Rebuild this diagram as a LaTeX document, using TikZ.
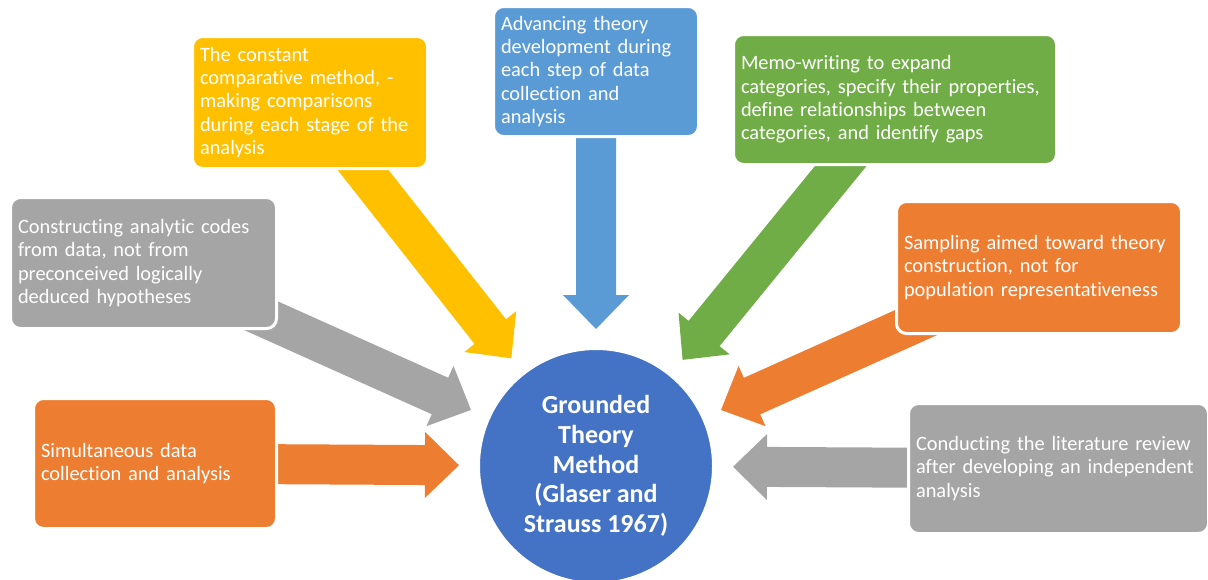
\documentclass[tikz,border=0pt]{standalone}
\usepackage{fontspec}
\setmainfont{Carlito}[Ligatures=NoCommon]
\usetikzlibrary{calc}
\pgfdeclarelayer{background}
\pgfsetlayers{background,main}
\hyphenpenalty=10000

\definecolor{corange}{HTML}{ED7D31}
\definecolor{cgray}{HTML}{A5A5A5}
\definecolor{cyellow}{HTML}{FFC000}
\definecolor{cblue}{HTML}{5B9BD5}
\definecolor{cgreen}{HTML}{70AD47}
\definecolor{cdblue}{HTML}{4472C4}

% Block arrow from #2 (tail) to #3 (tip): shaft 40pt wide, head 66pt wide, 34pt long
\newcommand\blockarrow[3]{%
  \fill[#1] ($(#2)!20pt!90:(#3)$)
    -- ($($(#3)!34pt!(#2)$)!20pt!90:(#3)$)
    -- ($($(#3)!34pt!(#2)$)!33pt!90:(#3)$)
    -- (#3)
    -- ($($(#3)!34pt!(#2)$)!33pt!-90:(#3)$)
    -- ($($(#3)!34pt!(#2)$)!20pt!-90:(#3)$)
    -- ($(#2)!20pt!-90:(#3)$) -- cycle;}

\begin{document}
\begin{tikzpicture}[x=1pt,y=-1pt,
  box/.style={rounded corners=10pt, draw=white, line width=3pt, text=white,
    align=left, inner xsep=7.5pt, inner ysep=0pt,
    font=\fontsize{20.4}{23.3}\selectfont},
  hub/.style={circle, fill=cdblue, draw=white, line width=3pt, text=white,
    align=center, inner sep=0pt, minimum size=235pt,
    font=\fontsize{26}{29.6}\selectfont\bfseries}]
\useasboundingbox (0,0) rectangle (1208,579);

% central method
\node[hub] (gtm) at (596,466)
  {Grounded\\Theory\\Method\\(Glaser and\\Strauss 1967)};

% surrounding principles
\node[box, fill=corange, minimum width=243pt, minimum height=130pt, text width=228pt]
  (b1) at (155,463.5) {Simultaneous data\\collection and analysis};
\node[box, fill=cgray, minimum width=266pt, minimum height=131pt, text width=251pt]
  (b2) at (143.5,263) {Constructing analytic codes\\from data, not from\\preconceived logically\\deduced hypotheses};
\node[box, fill=cyellow, minimum width=235pt, minimum height=132pt, text width=220pt]
  (b3) at (310,102.5) {The constant\\comparative method, -\\making comparisons\\during each stage of the\\analysis};
\node[box, fill=cblue, minimum width=205pt, minimum height=130pt, text width=190pt]
  (b4) at (596,71.5) {Advancing theory\\development during\\each step of data\\collection and\\analysis};
\node[box, fill=cgreen, minimum width=323pt, minimum height=130pt, text width=308pt]
  (b5) at (895,99.5) {Memo-writing to expand\\categories, specify their properties,\\define relationships between\\categories, and identify gaps};
\node[box, fill=corange, minimum width=285pt, minimum height=132pt, text width=270pt]
  (b6) at (1039,267.5) {Sampling aimed toward theory\\construction, not for\\population representativeness};
\node[box, fill=cgray, minimum width=300pt, minimum height=130pt, text width=285pt]
  (b7) at (1058.5,468.5) {Conducting the literature review\\after developing an independent\\analysis};

% arrow tips on a ring around the hub
\foreach \i in {1,...,7}
  \coordinate (t\i) at ($(gtm.center)!137pt!(b\i.center)$);

\begin{pgfonlayer}{background}
  \blockarrow{corange}{b1.center}{t1}
  \blockarrow{cgray}{b2.center}{t2}
  \blockarrow{cyellow}{b3.center}{t3}
  \blockarrow{cblue}{b4.center}{t4}
  \blockarrow{cgreen}{b5.center}{t5}
  \blockarrow{corange}{b6.center}{t6}
  \blockarrow{cgray}{b7.center}{t7}
\end{pgfonlayer}
\end{tikzpicture}
\end{document}
